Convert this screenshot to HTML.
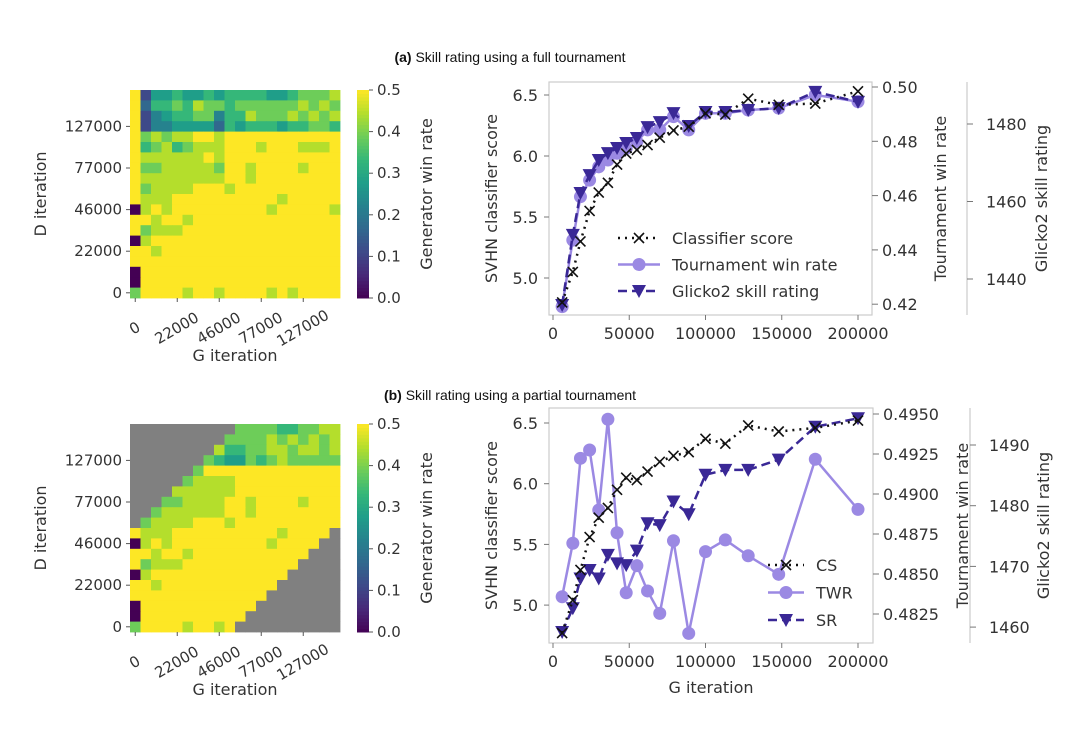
<!DOCTYPE html>
<html><head><meta charset="utf-8"><style>
body{margin:0;background:#fff;}
svg{display:block;font-family:"DejaVu Sans","Liberation Sans",sans-serif;}
</style></head><body>
<svg id="fig" width="1080" height="731" viewBox="0 0 1080 731" xmlns="http://www.w3.org/2000/svg">
<text x="510" y="62" text-anchor="middle" font-family="Liberation Sans, sans-serif" font-size="14" fill="#111"><tspan font-weight="bold">(a)</tspan> Skill rating using a full tournament</text>
<text x="510" y="400" text-anchor="middle" font-family="Liberation Sans, sans-serif" font-size="14" fill="#111"><tspan font-weight="bold">(b)</tspan> Skill rating using a partial tournament</text>
</svg>
<script>
const iters=[6000,13000,18000,24000,30000,36000,42000,48000,55000,62000,70000,79000,89000,100000,113000,128000,148000,172000,200000];
const csA=[4.80,5.05,5.30,5.55,5.70,5.78,5.93,6.02,6.05,6.09,6.15,6.21,6.24,6.35,6.34,6.47,6.42,6.43,6.53];
const twrA=[0.4191,0.4436,0.4596,0.4657,0.4706,0.4731,0.4756,0.4774,0.4799,0.4842,0.4842,0.4891,0.4842,0.4903,0.4903,0.4915,0.4922,0.4971,0.4946];
const srA=[1433.3,1451.4,1462.2,1466.8,1470.7,1472.5,1473.8,1475.1,1476.4,1479.2,1480.5,1482.8,1479.5,1483.1,1483.1,1483.6,1484.1,1488.3,1485.7];
const csB=[4.77,5.04,5.29,5.56,5.72,5.80,5.95,6.05,6.03,6.10,6.18,6.23,6.26,6.37,6.33,6.48,6.43,6.46,6.52];
const twrB=[0.48358,0.48692,0.49223,0.49275,0.4890,0.49467,0.48758,0.48383,0.48552,0.48394,0.48254,0.48708,0.48129,0.4864,0.48713,0.48614,0.48498,0.49217,0.48904];
const srB=[1459.2,1463.1,1468.0,1469.4,1468.0,1471.9,1470.5,1470.2,1472.6,1477.1,1476.8,1480.7,1478.6,1485.1,1485.9,1485.9,1487.6,1493.0,1494.4];
const xTicks=[0,50000,100000,150000,200000];
const leftTicks=[5.0,5.5,6.0,6.5];
const twrTicksA=[0.42,0.44,0.46,0.48,0.50];
const srTicksA=[1440,1460,1480];
const twrTicksB=[0.4825,0.4850,0.4875,0.4900,0.4925,0.4950];
const srTicksB=[1460,1470,1480,1490];
const hmTickLabels=["0","22000","46000","77000","127000"];
const cbTicks=[0.0,0.1,0.2,0.3,0.4,0.5];
const heatA=["92556556566665567778","93667687767777778787","92456677466877787878","92445555365666566776","97878899899999999999","96786788899989998889","98888889899999999999","97788888799899998999","98888888899899999999","97888899989999999999","98889999999999899999","08989999999998999998","99899899999999999999","97888999999999999999","08999999999999999999","99899999999999999999","99999999999999999999","09999999999999999999","09999999999999999999","79999899899998989999"];
const heatB=["99999999997777667788","99999999977778787878","99999999866778878878","99999997655767877777","99999979999999999999","99999788889999999999","99998888889999999999","99977888899899998999","99788888899899999999","97888899989999999999","98889999999999899999","08989999999998999998","99899899999999999999","97888999999999999999","08999999999999999999","99899999999999999999","99999999999999999999","09999999999999999999","09999999999999999999","79999899899998989999"];

const NS="http://www.w3.org/2000/svg";
const svg=document.getElementById('fig');
function mk(tag,attrs,parent){const e=document.createElementNS(NS,tag);for(const k in attrs)e.setAttribute(k,attrs[k]);(parent||svg).appendChild(e);return e;}
function txt(x,y,s,attrs,parent){const e=mk('text',Object.assign({x:x,y:y,'font-size':15,fill:'#333'},attrs||{}),parent);e.textContent=s;return e;}
const VIR=[[68,1,84],[72,40,120],[62,73,137],[49,104,142],[38,130,142],[31,158,137],[53,183,121],[109,205,89],[180,222,44],[253,231,37]];
function viridis(t){t=Math.max(0,Math.min(1,t))*9;const i=Math.min(8,Math.floor(t)),f=t-i;const a=VIR[i],b=VIR[i+1];return 'rgb('+a.map((v,k)=>Math.round(v+(b[k]-v)*f)).join(',')+')';}

function heatmap(y0,grid,masked,nm){
  const g=mk('g',{});
  
  
  const x0=130,w=210,h=208,n=20,cw=w/n,ch=h/n;
  for(let r=0;r<n;r++)for(let c=0;c<n;c++){
    let fill;
    if(masked&&((r<10&&c<10-r)||(r>=10&&c>=29-r)))fill='#808080';
    else fill=viridis(parseInt(grid[r][c])/9);
    const cell=mk('rect',{x:x0+c*cw,y:y0+r*ch,width:cw+0.4,height:ch+0.4,fill:fill},g);
    
    
  }
  for(let k=0;k<5;k++){
    const cx=x0+(4*k+0.5)*cw, ry=y0+(19-4*k+0.5)*ch;
    mk('line',{x1:cx,y1:y0+h,x2:cx,y2:y0+h+4,stroke:'#555'},g);
    mk('line',{x1:x0,y1:ry,x2:x0-4,y2:ry,stroke:'#555'},g);
    const t=txt(cx,y0+h+35,hmTickLabels[k],{'text-anchor':'middle',transform:'rotate(-30 '+cx+' '+(y0+h+31)+')'},g);
    
    
    const t2=txt(x0-8,ry+5,hmTickLabels[k],{'text-anchor':'end'},g);
    
    
  }
  const gx=txt(235,y0+h+63,'G iteration',{'text-anchor':'middle','font-size':16},g);
  
  
  const dy=txt(0,0,'D iteration',{'text-anchor':'middle','font-size':16,transform:'translate(46 '+(y0+h/2)+') rotate(-90)'},g);
  
  
  const cb=mk('g',{},g);
  
  
  const steps=60;
  for(let i=0;i<steps;i++){mk('rect',{x:357,y:y0+h-(i+1)*h/steps,width:12,height:h/steps+0.5,fill:viridis((i+0.5)/steps)},cb);}
  cbTicks.forEach(v=>{const yy=y0+h-v/0.5*h;mk('line',{x1:369,y1:yy,x2:373,y2:yy,stroke:'#555'},cb);txt(377,yy+5,v.toFixed(1),{},cb);});
  const ct=txt(0,0,'Generator win rate',{'text-anchor':'middle','font-size':16,transform:'translate(432 '+(y0+h/2)+') rotate(-90)'},cb);
  
  
}
heatmap(90,heatA,false,'heatmap-full');
heatmap(424,heatB,true,'heatmap-partial');

const PURPLE='#9b89e3',DARK='#3a2896';
function marker(g,kind,x,y,color){
  if(kind==='x'){mk('path',{d:`M${x-5} ${y-5}L${x+5} ${y+5}M${x-5} ${y+5}L${x+5} ${y-5}`,stroke:color,'stroke-width':1.6,fill:'none'},g);}
  else if(kind==='o'){mk('circle',{cx:x,cy:y,r:6.5,fill:color},g);}
  else {mk('path',{d:`M${x-7} ${y-6}L${x+7} ${y-6}L${x} ${y+7}Z`,fill:color},g);}
}
function series(g,xs,ys,kind,color,dash,w,nm){
  const s=mk('g',{},g);
  
  
  const pts=xs.map((x,i)=>x.toFixed(1)+','+ys[i].toFixed(1)).join(' ');
  const a={points:pts,fill:'none',stroke:color,'stroke-width':w};
  if(dash)a['stroke-dasharray']=dash;
  mk('polyline',a,s);
  xs.forEach((x,i)=>marker(s,kind,x,ys[i],color));
}
function lineChart(cfg){
  const g=mk('g',{});
  
  
  const X=v=>553+v/200000*305;
  mk('rect',{x:549,y:cfg.top,width:cfg.right-549,height:cfg.bot-cfg.top,fill:'none',stroke:'#ccc','stroke-width':1.2},g);
  mk('line',{x1:cfg.gx,y1:cfg.top,x2:cfg.gx,y2:cfg.bot,stroke:'#ccc','stroke-width':1.2},g);
  xTicks.forEach(v=>{const x=X(v);mk('line',{x1:x,y1:cfg.bot,x2:x,y2:cfg.bot+5,stroke:'#777'},g);const t=txt(x,cfg.bot+24,String(v),{'text-anchor':'middle','font-size':16},g);});
  leftTicks.forEach(v=>{const y=cfg.YL(v);mk('line',{x1:549,y1:y,x2:544,y2:y,stroke:'#777'},g);txt(538,y+6,v.toFixed(1),{'text-anchor':'end','font-size':16},g);});
  cfg.tT.forEach(v=>{const y=cfg.YT(v);mk('line',{x1:cfg.right,y1:y,x2:cfg.right+6,y2:y,stroke:'#777'},g);txt(cfg.right+10,y+6,v.toFixed(cfg.dec),{'font-size':16},g);});
  cfg.gT.forEach(v=>{const y=cfg.YG(v);mk('line',{x1:cfg.gx,y1:y,x2:cfg.gx+6,y2:y,stroke:'#777'},g);txt(cfg.gx+19,y+6,String(v),{'font-size':16},g);});
  const yt=txt(0,0,'SVHN classifier score',{'text-anchor':'middle','font-size':16,transform:`translate(497 ${(cfg.top+cfg.bot)/2}) rotate(-90)`},g);
  
  const tt=txt(0,0,'Tournament win rate',{'text-anchor':'middle','font-size':16,transform:`translate(${cfg.ttx} ${(cfg.top+cfg.bot)/2}) rotate(-90)`},g);
  
  const gt=txt(0,0,'Glicko2 skill rating',{'text-anchor':'middle','font-size':16,transform:`translate(${cfg.gtx} ${(cfg.top+cfg.bot)/2}) rotate(-90)`},g);
  
  if(cfg.xtitle){const xt=txt(711,cfg.bot+50,'G iteration',{'text-anchor':'middle','font-size':16},g);}
  const xs=iters.map(X);
  series(g,xs,cfg.tw.map(cfg.YT),'o',PURPLE,null,2.5,'series-tournament-win-rate');
  series(g,xs,cfg.sr.map(cfg.YG),'v',DARK,'9,5',2.5,'series-glicko2-rating');
  series(g,xs,cfg.cs.map(cfg.YL),'x','#111','2,5',2.5,'series-classifier-score');
  const lg=mk('g',{},g);
  
  
  const L=cfg.leg;
  const items=[['x','#111','2,5'],['o',PURPLE,null],['v',DARK,'9,5']];
  items.forEach((it,i)=>{
    const y=L.y+i*L.dy;
    const a={x1:L.x,y1:y,x2:L.x+L.w,y2:y,stroke:it[1],'stroke-width':2.5};
    if(it[2])a['stroke-dasharray']=it[2];
    mk('line',a,lg);
    marker(lg,it[0],L.x+L.w/2,y,it[1]);
    const t=txt(L.x+L.w+12,y+6,L.labels[i],{'font-size':16},lg);
    
    
  });
}
lineChart({name:'chart-full-tournament',top:82,bot:315,right:872,gx:967,ttx:946,gtx:1047,dec:2,xtitle:false,
  YL:v=>95+(6.5-v)*122,YT:v=>87+(0.5-v)*2715,YG:v=>124+(1480-v)*3.875,
  tT:twrTicksA,gT:srTicksA,cs:csA,tw:twrA,sr:srA,
  leg:{x:618,y:238,dy:26.5,w:42,labels:['Classifier score','Tournament win rate','Glicko2 skill rating']}});
lineChart({name:'chart-partial-tournament',top:408,bot:643,right:873,gx:970,ttx:968,gtx:1049,dec:4,xtitle:true,
  YL:v=>423+(6.5-v)*121.4,YT:v=>414+(0.495-v)*16000,YG:v=>445+(1490-v)*6.07,
  tT:twrTicksB,gT:srTicksB,cs:csB,tw:twrB,sr:srB,
  leg:{x:768,y:565,dy:27.5,w:36,labels:['CS','TWR','SR']}});
</script>
</body></html>
